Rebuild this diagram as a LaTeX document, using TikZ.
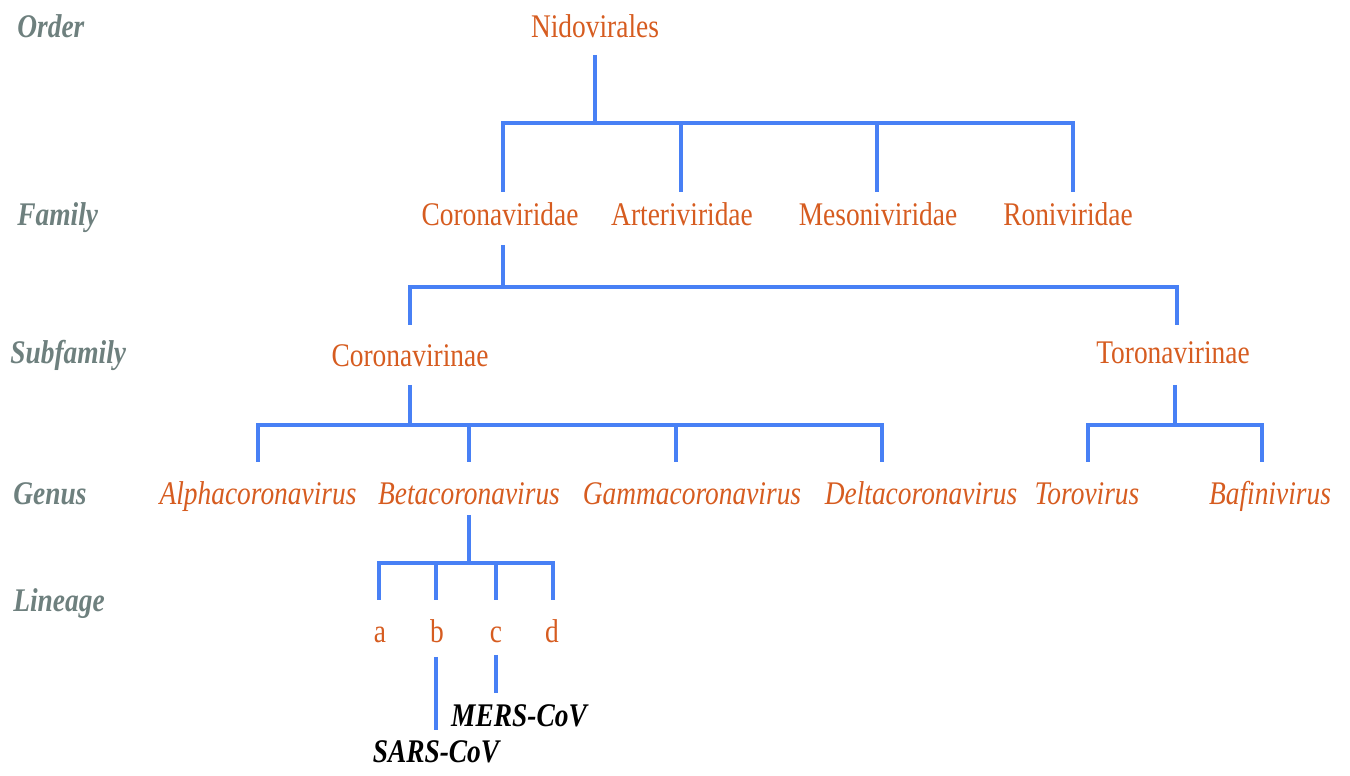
\documentclass[tikz,border=0pt]{standalone}
\usepackage{fontspec}
\setmainfont{Liberation Serif}[FakeStretch=0.83]

\definecolor{taxoncol}{RGB}{214,92,32}
\definecolor{branchcol}{RGB}{72,128,245}
\definecolor{rankcol}{RGB}{110,128,126}

\newcommand{\treefont}{\fontsize{18.8}{22}\selectfont}

\begin{document}
\begin{tikzpicture}[x=0.02cm,y=-0.02cm,
  taxon/.style={text=taxoncol,inner sep=0pt,anchor=base,font=\treefont},
  genus/.style={taxon,font=\treefont\itshape},
  rank/.style={text=rankcol,inner sep=0pt,anchor=base west,font=\treefont\bfseries\itshape},
  virus/.style={inner sep=0pt,anchor=base,font=\treefont\bfseries\itshape},
  branch/.style={draw=branchcol,line width=2.2pt}]
\useasboundingbox (0,0) rectangle (1350,776);

% Rank labels
\node[rank] (order) at (17,38) {Order};
\node[rank] (family) at (17,226) {Family};
\node[rank] (subfamily) at (10,364) {Subfamily};
\node[rank] (genus) at (13,505) {Genus};
\node[rank] (lineage) at (13,612) {Lineage};

% Order
\node[taxon] (nido) at (595,38) {Nidovirales};

% Families
\node[taxon] (cvd) at (500,226) {Coronaviridae};
\node[taxon] (art) at (682,226) {Arteriviridae};
\node[taxon] (mes) at (878,226) {Mesoniviridae};
\node[taxon] (ron) at (1068,226) {Roniviridae};

% Subfamilies
\node[taxon] (cvn) at (410,367) {Coronavirinae};
\node[taxon] (tvn) at (1173,364) {Toronavirinae};

% Genera
\node[genus] (alpha) at (258,505) {Alphacoronavirus};
\node[genus] (beta) at (469,505) {Betacoronavirus};
\node[genus] (gamma) at (692,505) {Gammacoronavirus};
\node[genus] (delta) at (921,505) {Deltacoronavirus};
\node[genus] (toro) at (1087,505) {Torovirus};
\node[genus] (bafini) at (1270,505) {Bafinivirus};

% Lineages
\node[taxon] (la) at (380,643) {a};
\node[taxon] (lb) at (437,643) {b};
\node[taxon] (lc) at (496,643) {c};
\node[taxon] (ld) at (552,643) {d};

% Viruses
\node[virus] (mers) at (519,727) {MERS-CoV};
\node[virus] (sars) at (436,763) {SARS-CoV};

% Branch points
\coordinate (nidoTop) at (595,55);
\coordinate (nidoBar) at (595,123);
\coordinate (cvdTip) at (503,192);
\coordinate (artTip) at (681,192);
\coordinate (mesTip) at (877,192);
\coordinate (ronTip) at (1073,192);

\coordinate (cvdTop) at (503,245);
\coordinate (cvdBar) at (503,287);
\coordinate (cvnTip) at (410,325);
\coordinate (tvnTip) at (1177,325);

\coordinate (cvnTop) at (410,385);
\coordinate (cvnBar) at (410,425);
\coordinate (alphaTip) at (258,462);
\coordinate (betaTip) at (469,462);
\coordinate (gammaTip) at (676,462);
\coordinate (deltaTip) at (882,462);

\coordinate (tvnTop) at (1175,385);
\coordinate (tvnBar) at (1175,425);
\coordinate (toroTip) at (1088,462);
\coordinate (bafiniTip) at (1262,462);

\coordinate (betaTop) at (469,515);
\coordinate (betaBar) at (469,563);
\coordinate (laTip) at (379,600);
\coordinate (lbTip) at (436,600);
\coordinate (lcTip) at (496,600);
\coordinate (ldTip) at (553,600);

\coordinate (lbTop) at (436,657);
\coordinate (sarsTip) at (436,730);
\coordinate (lcTop) at (496,655);
\coordinate (mersTip) at (496,693);

% Branches
\draw[branch] (nidoTop) -- (nidoBar);
\draw[branch] (cvdTip) -- (cvdTip |- nidoBar) -- (ronTip |- nidoBar) -- (ronTip);
\draw[branch] (artTip) -- (artTip |- nidoBar);
\draw[branch] (mesTip) -- (mesTip |- nidoBar);

\draw[branch] (cvdTop) -- (cvdBar);
\draw[branch] (cvnTip) -- (cvnTip |- cvdBar) -- (tvnTip |- cvdBar) -- (tvnTip);

\draw[branch] (cvnTop) -- (cvnBar);
\draw[branch] (alphaTip) -- (alphaTip |- cvnBar) -- (deltaTip |- cvnBar) -- (deltaTip);
\draw[branch] (betaTip) -- (betaTip |- cvnBar);
\draw[branch] (gammaTip) -- (gammaTip |- cvnBar);

\draw[branch] (tvnTop) -- (tvnBar);
\draw[branch] (toroTip) -- (toroTip |- tvnBar) -- (bafiniTip |- tvnBar) -- (bafiniTip);

\draw[branch] (betaTop) -- (betaBar);
\draw[branch] (laTip) -- (laTip |- betaBar) -- (ldTip |- betaBar) -- (ldTip);
\draw[branch] (lbTip) -- (lbTip |- betaBar);
\draw[branch] (lcTip) -- (lcTip |- betaBar);

\draw[branch] (lbTop) -- (sarsTip);
\draw[branch] (lcTop) -- (mersTip);
\end{tikzpicture}
\end{document}
